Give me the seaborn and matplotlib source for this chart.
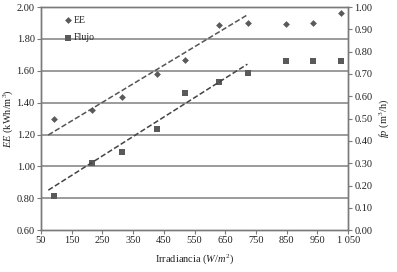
import numpy as np
import pandas as pd
import matplotlib
matplotlib.use("Agg")
import matplotlib.pyplot as plt
import seaborn as sns

irradiance = [92, 215, 314, 427, 519, 631, 723, 847, 936, 1027]
ee_values = [1.30, 1.355, 1.433, 1.578, 1.666, 1.885, 1.897, 1.893, 1.897, 1.964]
flujo_values = [0.152, 0.299, 0.350, 0.452, 0.613, 0.662, 0.704, 0.759, 0.756, 0.759]
trend_irr = [74, 722]
ee_trend = [1.197, 1.951]
flujo_trend = [0.179, 0.744]
x_ticks = [50, 150, 250, 350, 450, 550, 650, 750, 850, 950, 1050]
x_tick_labels = ["50", "150", "250", "350", "450", "550", "650", "750", "850", "950", "1 050"]
left_ticks = [0.60, 0.80, 1.00, 1.20, 1.40, 1.60, 1.80, 2.00]
right_ticks = [0.0, 0.1, 0.2, 0.3, 0.4, 0.5, 0.6, 0.7, 0.8, 0.9, 1.0]

df = pd.DataFrame({"irr": irradiance, "EE": ee_values, "Flujo": flujo_values})
trend = pd.DataFrame({"irr": trend_irr, "EE": ee_trend, "Flujo": flujo_trend})

sns.set_theme(style="white")
plt.rcParams["font.family"] = ["Liberation Serif", "DejaVu Serif"]
plt.rcParams["mathtext.fontset"] = "custom"
plt.rcParams["mathtext.rm"] = "Liberation Serif"
plt.rcParams["mathtext.it"] = "Liberation Serif:italic"

fig = plt.figure(figsize=(3.97, 2.72), dpi=100)
ax = fig.add_axes([0.103, 0.154, 0.774, 0.820])
ax2 = ax.twinx()

mcol = "#5a5a5a"
sns.scatterplot(data=df, x="irr", y="EE", ax=ax, marker="D", s=12, color=mcol,
                edgecolor=mcol, linewidth=0, label="EE", legend=False)
sns.scatterplot(data=df, x="irr", y="Flujo", ax=ax2, marker="s", s=22, color=mcol,
                edgecolor=mcol, linewidth=0, label="Flujo", legend=False)

sns.lineplot(data=trend, x="irr", y="EE", ax=ax, color="#555555", lw=1.1)
ax.lines[-1].set_dashes((3.5, 1.6))
sns.lineplot(data=trend, x="irr", y="Flujo", ax=ax2, color="#444444", lw=1.1)
ax2.lines[-1].set_dashes((3.5, 1.6))

ax.set_xlim(50, 1050)
ax.set_ylim(0.60, 2.00)
ax2.set_ylim(0, 1.0)
ax.set_xticks(x_ticks)
ax.set_xticklabels(x_tick_labels)
ax.set_yticks(left_ticks)
ax.set_yticklabels([f"{v:.2f}" for v in left_ticks])
ax2.set_yticks(right_ticks)
ax2.set_yticklabels([f"{v:.2f}" for v in right_ticks])

for t in left_ticks[1:-1]:
    ax.axhline(t, color="#808080", lw=1.1, zorder=0)

for a in (ax, ax2):
    for s in a.spines.values():
        s.set_color("#7a7a7a")
        s.set_linewidth(1.0)
    a.tick_params(axis="both", labelsize=7.5, length=3, width=0.8, color="#7a7a7a",
                  pad=1.5, labelcolor="#222222")
ax.tick_params(axis="x", bottom=True, direction="out")
ax.tick_params(axis="y", left=True, direction="out")
ax2.tick_params(axis="y", right=True, direction="out")

ax.set_xlabel(r"Irradiancia ($\mathit{W}/\mathit{m}^2$)", fontsize=7.5, color="#222222", labelpad=5)
ax.set_ylabel(r"$\mathit{EE}$ (kWh/m$^3$)", fontsize=7.5, color="#222222", labelpad=1)
ax2.set_ylabel(r"$\mathit{fp}$ (m$^3$/h)", fontsize=7.5, color="#222222", labelpad=3)

h1, l1 = ax.get_legend_handles_labels()
h2, l2 = ax2.get_legend_handles_labels()
if ax.get_legend() is not None:
    ax.get_legend().remove()
ax2.legend(h1[:1] + h2[:1], ["EE", "Flujo"], loc="upper left", bbox_to_anchor=(0.045, 1.0),
           frameon=False, fontsize=7, labelspacing=0.85, handletextpad=0.1,
           handlelength=1.0, markerscale=1.0)

fig.savefig("out.png", dpi=100)
